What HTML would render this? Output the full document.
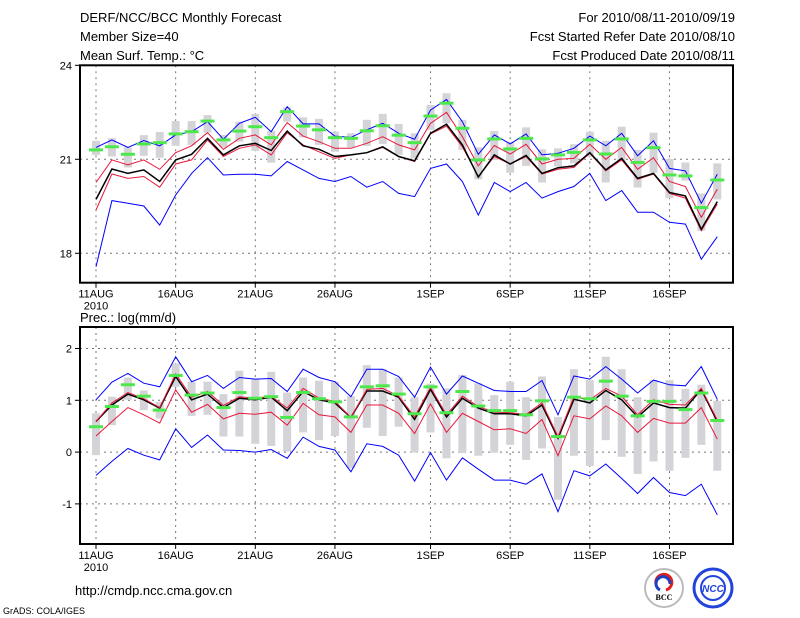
<!DOCTYPE html>
<html><head><meta charset="utf-8">
<style>
html,body{margin:0;padding:0;background:#fff;}
svg{display:block;font-family:"Liberation Sans",sans-serif;}
</style></head>
<body>
<svg id="c" width="800" height="618" viewBox="0 0 800 618">
<g font-size="13" fill="#000">
<text x="80" y="22">DERF/NCC/BCC Monthly Forecast</text>
<text x="80" y="41">Member Size=40</text>
<text x="80" y="60">Mean Surf. Temp.: °C</text>
</g>
<g font-size="13" fill="#000" text-anchor="end">
<text x="735" y="22">For 2010/08/11-2010/09/19</text>
<text x="735" y="41">Fcst Started Refer Date 2010/08/10</text>
<text x="735" y="60">Fcst Produced Date 2010/08/11</text>
</g>
<text x="80" y="322" font-size="13">Prec.: log(mm/d)</text>
<text x="75" y="595" font-size="13">http://cmdp.ncc.cma.gov.cn</text>
<text x="3" y="614" font-size="9">GrADS: COLA/IGES</text>
<g>
<circle cx="664" cy="588" r="19" fill="#fff" stroke="#bbb" stroke-width="2"/>
<path d="M656 584 a8 8 0 1 1 10 6" fill="none" stroke="#e02020" stroke-width="3"/>
<path d="M670 584 a7 7 0 1 0 -10 6" fill="none" stroke="#2040c0" stroke-width="3"/>
<text x="664" y="600" font-size="8" text-anchor="middle" font-family="Liberation Serif,serif" font-weight="bold">BCC</text>
</g>
<g>
<circle cx="713" cy="588" r="19" fill="#fff" stroke="#2244dd" stroke-width="3"/>
<circle cx="713" cy="588" r="12" fill="none" stroke="#2244dd" stroke-width="2"/>
<text x="713" y="592" font-size="10" text-anchor="middle" fill="#2244dd" font-weight="bold" font-style="italic">NCC</text>
</g>
<g id="plots"></g>
</svg>
<script>
const days = 40;
const xLabels = ["11AUG","16AUG","21AUG","26AUG","1SEP","6SEP","11SEP","16SEP"];
const xLabelDays = [0,5,10,15,21,26,31,36];
const tempTicks = [24,21,18];
const precTicks = [2,1,0,-1];

const tObs = [21.30,21.40,21.16,21.49,21.53,21.81,21.88,22.22,21.62,21.90,22.04,21.69,22.52,22.06,21.94,21.69,21.67,21.91,22.07,21.77,21.53,22.38,22.79,21.99,20.98,21.65,21.33,21.67,21.01,21.14,21.22,21.62,21.17,21.65,20.90,21.37,20.50,20.47,19.46,20.34];
const tMean = [19.72,20.69,20.55,20.66,20.29,20.98,21.16,21.67,21.14,21.43,21.51,21.28,21.90,21.43,21.32,21.09,21.14,21.21,21.40,21.09,20.95,21.83,22.12,21.46,20.43,21.14,20.85,21.12,20.55,20.73,20.79,21.21,20.66,21.03,20.39,20.55,19.94,19.83,18.77,19.65];
const tRedHi = [20.26,20.98,20.82,20.98,20.68,21.21,21.43,21.85,21.32,21.67,21.78,21.46,22.17,21.74,21.56,21.35,21.35,21.51,21.72,21.46,21.30,22.15,22.50,21.72,20.79,21.44,21.17,21.48,20.85,21.00,21.03,21.48,21.00,21.38,20.68,21.05,20.29,20.13,19.15,20.05];
const tRedLo = [19.38,20.53,20.39,20.45,20.11,20.85,20.98,21.62,21.09,21.35,21.46,21.14,21.85,21.46,21.24,21.03,21.14,21.21,21.38,21.09,20.93,21.81,22.06,21.40,20.45,21.09,20.85,21.09,20.53,20.68,20.74,21.19,20.63,20.98,20.36,20.53,19.91,19.76,18.72,19.57];
const tBlueHi = [21.38,21.62,21.38,21.60,21.43,21.78,21.88,22.20,21.64,22.15,22.34,21.88,22.68,22.13,22.13,21.74,21.70,21.94,22.15,21.83,21.64,22.57,22.91,22.20,21.16,21.78,21.49,21.81,21.14,21.19,21.35,21.74,21.43,21.83,21.11,21.59,20.71,20.63,19.60,20.52];
const tBlueLo = [17.57,19.68,19.60,19.51,18.90,19.86,20.55,21.05,20.50,20.52,20.52,20.47,20.93,20.66,20.39,20.29,20.45,20.11,20.29,19.91,19.81,20.71,20.85,20.29,19.22,20.26,19.97,20.26,19.76,19.97,20.13,20.55,19.68,20.00,19.31,19.31,18.99,18.93,17.81,18.53];
const tBoxHi = [21.59,21.67,21.38,21.77,21.87,22.22,22.22,22.41,21.78,22.20,22.45,21.91,22.66,22.34,22.29,21.88,21.83,22.26,22.45,22.13,21.83,22.73,23.11,22.26,21.38,21.90,21.56,22.02,21.32,21.35,21.48,21.88,21.59,22.04,21.30,21.85,21.01,20.90,19.91,20.87];
const tBoxLo = [21.14,21.09,20.74,21.11,21.05,21.43,21.46,21.85,21.38,21.56,21.27,20.89,22.20,21.70,21.46,21.24,21.38,21.43,21.49,21.14,21.03,21.94,22.15,21.30,20.36,20.98,20.57,20.79,20.26,20.77,20.87,21.09,20.26,20.93,20.10,20.57,19.76,20.32,18.72,19.72];

const pObs = [0.49,0.88,1.30,1.08,0.81,1.48,1.10,1.14,0.86,1.15,1.04,1.07,0.67,1.15,1.03,0.97,0.68,1.26,1.28,1.12,0.74,1.26,0.76,1.17,0.89,0.80,0.80,0.72,0.99,0.30,1.06,1.03,1.37,1.08,0.70,0.98,0.98,0.82,1.14,0.61];
const pMean = [0.59,0.91,1.12,1.01,0.85,1.46,1.01,1.12,0.86,1.04,1.01,1.06,0.80,1.17,1.01,0.95,0.67,1.18,1.18,1.06,0.63,1.21,0.68,1.04,0.85,0.74,0.74,0.70,0.91,0.27,1.02,0.95,1.19,1.01,0.68,0.95,0.86,0.85,1.21,0.59];
const pRedHi = [0.59,0.95,1.15,1.03,0.86,1.51,1.06,1.17,0.90,1.07,1.04,1.08,0.85,1.23,1.04,0.98,0.67,1.21,1.23,1.08,0.68,1.25,0.72,1.08,0.88,0.77,0.76,0.73,0.95,0.30,1.07,1.01,1.23,1.08,0.72,1.01,0.92,0.91,1.23,0.62];
const pRedLo = [0.31,0.59,0.86,0.72,0.56,1.20,0.77,0.92,0.64,0.75,0.73,0.77,0.52,0.94,0.72,0.68,0.38,0.91,0.91,0.75,0.36,0.93,0.38,0.75,0.59,0.43,0.45,0.36,0.63,-0.07,0.70,0.64,0.89,0.70,0.38,0.65,0.56,0.56,0.86,0.25];
const pBlueHi = [1.01,1.35,1.52,1.33,1.26,1.84,1.36,1.48,1.23,1.44,1.41,1.42,1.17,1.60,1.44,1.36,1.07,1.60,1.60,1.46,1.06,1.64,1.12,1.47,1.33,1.19,1.17,1.17,1.38,0.72,1.47,1.41,1.65,1.41,1.14,1.39,1.30,1.28,1.65,1.02];
const pBlueLo = [-0.45,-0.18,0.07,-0.06,-0.15,0.45,0.09,0.33,0.04,0.03,0.00,0.05,-0.12,0.29,0.11,0.04,-0.38,0.16,0.11,-0.06,-0.56,-0.01,-0.54,-0.11,-0.33,-0.54,-0.54,-0.62,-0.42,-1.15,-0.36,-0.46,-0.23,-0.51,-0.80,-0.49,-0.78,-0.84,-0.62,-1.21];
const pBoxHi = [0.75,1.07,1.44,1.19,0.97,1.71,1.36,1.36,1.12,1.57,1.41,1.55,1.15,1.44,1.38,1.36,1.08,1.68,1.60,1.44,1.06,1.32,1.23,1.49,1.33,1.10,1.36,1.06,1.46,0.68,1.60,1.39,1.84,1.60,1.06,1.39,1.39,1.22,1.30,0.99];
const pBoxLo = [-0.06,0.52,1.01,0.81,0.65,1.26,0.70,0.72,0.30,0.30,0.16,0.12,0.01,0.38,0.23,0.31,-0.31,0.47,0.31,0.49,-0.01,0.38,-0.12,-0.02,-0.07,-0.01,0.14,-0.15,0.07,-0.92,-0.07,-0.27,0.23,-0.09,-0.42,-0.18,-0.36,-0.11,0.14,-0.36];

const NS = "http://www.w3.org/2000/svg";
const root = document.getElementById('plots');
const X0 = 80, X1 = 733;
function xPos(i){ return 96 + i*15.93; }
function mk(tag, attrs, parent){
  const e = document.createElementNS(NS, tag);
  for (const k in attrs) e.setAttribute(k, attrs[k]);
  parent.appendChild(e);
  return e;
}

function panel(name, top, bottom, vTop, vBot, ticks, S){
  const g = mk('g', {}, root);
  
  
  const y = v => top + (vTop - v) / (vTop - vBot) * (bottom - top);
  ticks.forEach(t => {
    const yy = y(t);
    if (yy > top + 1 && yy < bottom - 1) {
      const l = mk('line', {x1:X0, x2:X1, y1:yy, y2:yy, stroke:'#777', 'stroke-width':1, 'stroke-dasharray':'2,4'}, g);
      
      
    }
    const tk = mk('line', {x1:X0-5, x2:X0, y1:yy, y2:yy, stroke:'#000', 'stroke-width':1}, g);
    
    
    const tx = mk('text', {x:X0-8, y:yy+4, 'font-size':11, 'text-anchor':'end'}, g);
    tx.textContent = String(t);
    
    
  });
  xLabelDays.forEach((d, k) => {
    const xx = xPos(d);
    const l = mk('line', {x1:xx, x2:xx, y1:top, y2:bottom, stroke:'#777', 'stroke-width':1, 'stroke-dasharray':'2,4'}, g);
    
    
    const tk = mk('line', {x1:xx, x2:xx, y1:bottom, y2:bottom+5, stroke:'#000', 'stroke-width':1}, g);
    
    
    const tx = mk('text', {x:xx, y:bottom+15, 'font-size':11, 'text-anchor':'middle'}, g);
    tx.textContent = xLabels[k];
    
    
  });
  const yr = mk('text', {x:xPos(0), y:bottom+27, 'font-size':11, 'text-anchor':'middle'}, g);
  yr.textContent = '2010';
  
  
  for (let i = 0; i < days; i++) {
    const y1 = y(S.boxHi[i]), y2 = y(S.boxLo[i]);
    const r = mk('rect', {x:xPos(i)-4, y:y1, width:8, height:Math.max(1,y2-y1), fill:'#d4d4d8'}, g);
    
    
  }
  function line(arr, color, w, nm){
    const pts = arr.map((v,i) => xPos(i).toFixed(1)+','+y(v).toFixed(1)).join(' ');
    const p = mk('polyline', {points:pts, fill:'none', stroke:color, 'stroke-width':w}, g);
    
    
  }
  line(S.blueHi, '#0000ff', 1, 'upper-bound-line');
  line(S.blueLo, '#0000ff', 1, 'lower-bound-line');
  line(S.redLo, '#e8183c', 1, 'lower-quantile-line');
  line(S.mean, '#000', 1.5, 'ensemble-mean-line');
  line(S.redHi, '#e8183c', 1, 'upper-quantile-line');
  for (let i = 0; i < days; i++) {
    const r = mk('rect', {x:xPos(i)-7, y:y(S.obs[i])-1.5, width:14, height:3, fill:'#4ce84c'}, g);
    
    
  }
  const fr = mk('rect', {x:X0, y:top, width:X1-X0, height:bottom-top, fill:'none', stroke:'#000', 'stroke-width':2}, g);
  
  
}

panel('temperature-panel', 65.3, 282.7, 24, 24 - (282.7-65.3)/31.33, tempTicks,
  {obs:tObs, mean:tMean, redHi:tRedHi, redLo:tRedLo, blueHi:tBlueHi, blueLo:tBlueLo, boxHi:tBoxHi, boxLo:tBoxLo});
panel('precipitation-panel', 327, 544, 1 + (400.3-327)/51.8, 1 - (544-400.3)/51.8, precTicks,
  {obs:pObs, mean:pMean, redHi:pRedHi, redLo:pRedLo, blueHi:pBlueHi, blueLo:pBlueLo, boxHi:pBoxHi, boxLo:pBoxLo});
</script>
</body></html>
